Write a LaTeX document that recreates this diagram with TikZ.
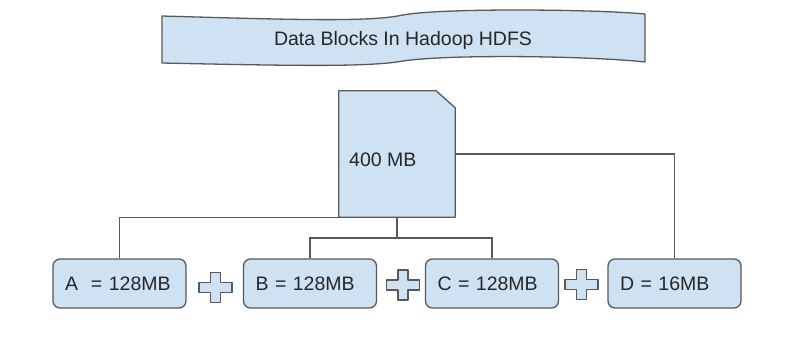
\documentclass[tikz,border=0pt]{standalone}
\usepackage{fontspec}
\setmainfont{Liberation Sans}
\definecolor{paleblue}{HTML}{CFE2F3}
\definecolor{edgegray}{HTML}{595959}
\definecolor{inkdark}{HTML}{262626}
\tikzset{
  outline/.style={draw=edgegray, line width=1.3pt, line join=round},
  wire/.style={draw=edgegray, line width=1.2pt},
  blockbox/.style={outline, fill=paleblue, rounded corners=7pt,
    minimum width=133pt, minimum height=49pt, text width=109pt,
    inner xsep=12pt, align=left, text=inkdark,
    font=\fontsize{19.5}{23}\selectfont},
  labeltext/.style={text=inkdark, inner sep=0pt, font=\fontsize{19.5}{23}\selectfont},
  crossmark/.pic={
    \path[outline, line width=1.1pt, fill=paleblue]
      (-16.5,-5) -- (-5,-5) -- (-5,-15) -- (5,-15) -- (5,-5) -- (16.5,-5)
      -- (16.5,5) -- (5,5) -- (5,15) -- (-5,15) -- (-5,5) -- (-16.5,5) -- cycle;
  }
}
\begin{document}
\begin{tikzpicture}[x=1pt, y=-1pt]
\useasboundingbox (0,0) rectangle (792,345);

% title banner (wave shape)
\path[outline, fill=paleblue]
  (162,16) .. controls (300,20) and (370,22) .. (403,15)
           .. controls (440,8) and (590,9) .. (645,14)
  -- (645,62)
           .. controls (590,56) and (450,54) .. (403,61)
           .. controls (370,67) and (300,66) .. (162,63)
  -- cycle;
\node[labeltext] (title) at (403,40) {Data Blocks In Hadoop HDFS};

% the 400 MB file (page with a folded corner)
\node[minimum width=116pt, minimum height=126pt, inner sep=0pt] (file) at (397,154) {};
\path[outline, fill=paleblue]
  (file.north west) -- ([xshift=-19pt]file.north east)
  -- ([yshift=-17pt]file.north east) -- (file.south east)
  -- (file.south west) -- cycle;
\node[labeltext, anchor=west] (filesize) at (349,160) {400 MB};

% the four blocks
\node[blockbox] (blkA) at (119.5,283.5) {A~ = 128MB};
\node[blockbox] (blkB) at (310,283.5) {B = 128MB};
\node[blockbox] (blkC) at (492,283.5) {C = 128MB};
\node[blockbox] (blkD) at (674.5,283.5) {D = 16MB};

% plus signs between the blocks
\pic at (215.5,287.5) {crossmark};
\pic at (403,285) {crossmark};
\pic at (581.5,284.5) {crossmark};

% connectors from the file to its blocks
\coordinate (split) at (397,238);
\draw[wire] (file.south west) -| (blkA.north);
\draw[wire] (file.south) -- (split);
\draw[wire] (blkB.north) |- (split) -| (blkC.north);
\draw[wire] (file.east) -| (blkD.north);
\end{tikzpicture}
\end{document}
